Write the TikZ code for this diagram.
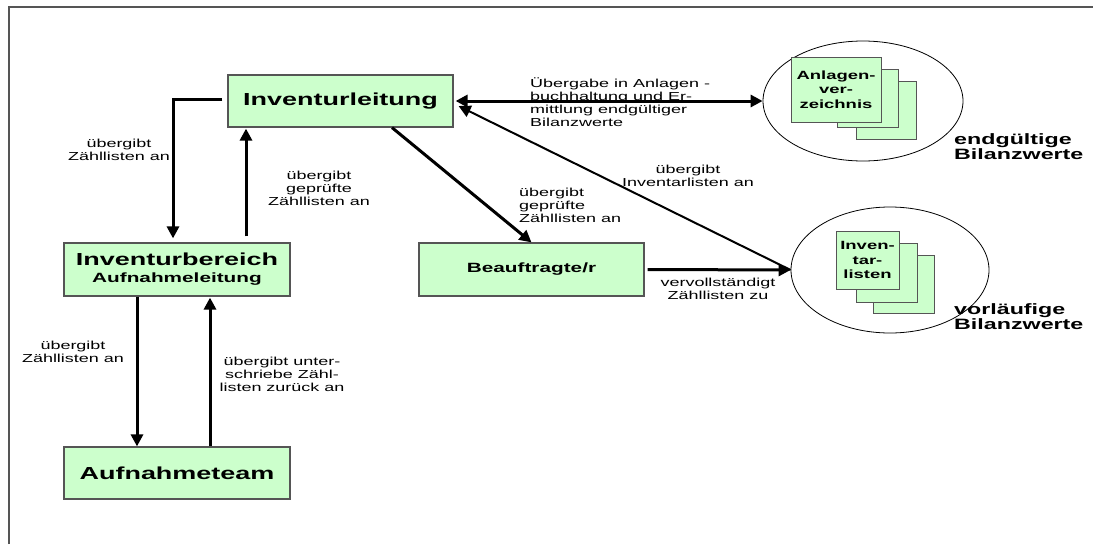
\documentclass[tikz,border=0pt]{standalone}
\usepackage{fontspec}
\setmainfont[FakeStretch=1.55]{Liberation Sans}
\usepackage{tikz}
\usetikzlibrary{arrows.meta,shapes.geometric}
\definecolor{boxgreen}{HTML}{CCFFCC}
\definecolor{rim}{HTML}{555555}

\begin{document}
\begin{tikzpicture}[x=1pt,y=-1pt,
	box/.style={draw=rim, line width=1.2pt, fill=boxgreen, inner sep=0pt, align=center, font=\bfseries\fontsize{17.4}{19}\selectfont},
	subbox/.style={box, font=\bfseries\fontsize{13.4}{15}\selectfont},
	page/.style={draw=rim, line width=1pt, fill=boxgreen},
	frontpage/.style={page, inner sep=0pt, align=center, font=\bfseries\fontsize{11.9}{14.5}\selectfont},
	lbl/.style={inner sep=0pt, align=center, font=\fontsize{11.6}{13}\selectfont},
	result/.style={inner sep=0pt, align=left, anchor=west, font=\bfseries\fontsize{15}{14}\selectfont},
	cloud/.style={draw, ellipse, line width=0.8pt, inner sep=0pt},
	arr/.style={line width=3pt, -{Triangle[width=12pt,length=12pt]}},
	thinarr/.style={line width=2pt, -{Triangle[width=12pt,length=12pt]}}]
	\useasboundingbox (0,0) rectangle (1093,544);
	\draw[rim, line width=1.5pt] (9,544) |- (1093,7);

	% boxes
	\node[box, minimum width=225, minimum height=52] at (340.5,101) (leitung){Inventurleitung};
	\node[box, minimum width=226, minimum height=53] at (177,269.5) (bereich){Inventurbereich\\[-2pt]{\fontsize{13.4}{15}\selectfont Aufnahmeleitung}};
	\node[box, minimum width=226, minimum height=52] at (177,473) (team){Aufnahmeteam};
	\node[subbox, minimum width=225, minimum height=53] at (531.5,269.5) (beauftragte){Beauftragte/r};

	% results
	\node[cloud, minimum width=200, minimum height=120] at (863,101) (endgueltig){};
	\draw[page] (856,81) rectangle (916,139);
	\draw[page] (837,69) rectangle (898,127);
	\node[frontpage, minimum width=90, minimum height=65] at (836,89.5) (anlagen){Anlagen-\\ver-\\zeichnis};
	\node[result] at (954,147) (endtext){endgültige\\Bilanzwerte};

	\node[cloud, minimum width=198, minimum height=126] at (890,270) (vorlaeufig){};
	\draw[page] (873,255) rectangle (934,313);
	\draw[page] (856,243) rectangle (917,302);
	\node[frontpage, minimum width=63, minimum height=58] at (867.5,260) (inventar){Inven-\\tar-\\listen};
	\node[result] at (954,317) (vorltext){vorläufige\\Bilanzwerte};

	% connectors
	\draw[arr] ([xshift=-5pt,yshift=2pt]leitung.west) -| ([xshift=-4pt,yshift=4pt]bereich.north);
	\draw[arr] ([xshift=69pt,yshift=6pt]bereich.north) -- ([xshift=-94.5pt,yshift=-1pt]leitung.south);
	\draw[arr] ([xshift=-40pt]bereich.south) -- ([xshift=-40pt]team.north);
	\draw[arr] ([xshift=33pt]team.north) -- ([xshift=33pt,yshift=-1pt]bereich.south);
	\draw[arr] ([xshift=51.5pt]leitung.south) -- (beauftragte.north);
	\draw[arr, {Triangle[width=12pt,length=12pt]}-{Triangle[width=12pt,length=12pt]}] ([xshift=2pt]leitung.east) -- (endgueltig.west);
	\draw[thinarr] (vorlaeufig.west) -- ([xshift=5pt,yshift=-5pt]leitung.east);
	\draw[arr] ([xshift=3pt]beauftragte.east) -- (vorlaeufig.west);

	% labels
	\node[lbl] at (119,149.5) (l1){übergibt\\Zähllisten an};
	\node[lbl] at (319,188) (l2){übergibt\\geprüfte\\Zähllisten an};
	\node[lbl] at (73,351.5) (l3){übergibt\\Zähllisten an};
	\node[lbl] at (282,374) (l4){übergibt unter-\\schriebe Zähl-\\listen zurück an};
	\node[lbl, align=left, anchor=west] at (519,205) (l5){übergibt\\geprüfte\\Zähllisten an};
	\node[lbl, align=left, anchor=west] at (530,102.5) (l6){Übergabe in Anlagen -\\buchhaltung und Er-\\mittlung endgültiger\\Bilanzwerte};
	\node[lbl] at (688,175.5) (l7){übergibt\\Inventarlisten an};
	\node[lbl] at (718,288.5) (l8){vervollständigt\\Zähllisten zu};
\end{tikzpicture}
\end{document}
